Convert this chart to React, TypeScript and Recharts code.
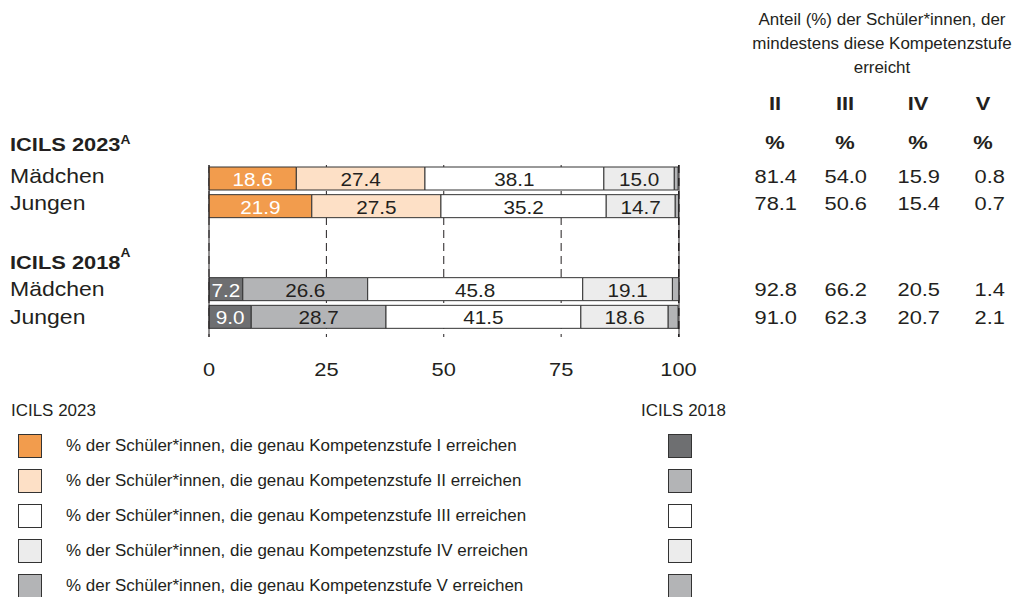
import React from "react";
import {
  BarChart,
  Bar,
  XAxis,
  YAxis,
  CartesianGrid,
  Cell,
  LabelList,
} from "recharts";

// rows of the chart (two spacer rows separate the cycles)
const rowKeys = ["m23", "j23", "gap", "h18", "m18", "j18"];
const rowLabels = ["Mädchen", "Jungen", "", "ICILS 2018", "Mädchen", "Jungen"];
const rowGroup = ["2023", "2023", "", "", "2018", "2018"];

// % of students reaching exactly level I..V
const levelI = [18.6, 21.9, null, null, 7.2, 9.0];
const levelII = [27.4, 27.5, null, null, 26.6, 28.7];
const levelIII = [38.1, 35.2, null, null, 45.8, 41.5];
const levelIV = [15.0, 14.7, null, null, 19.1, 18.6];
const levelV = [0.8, 0.7, null, null, 1.4, 2.1];

// % reaching at least level II..V
const atLeastII = [81.4, 78.1, null, null, 92.8, 91.0];
const atLeastIII = [54.0, 50.6, null, null, 66.2, 62.3];
const atLeastIV = [15.9, 15.4, null, null, 20.5, 20.7];
const atLeastV = [0.8, 0.7, null, null, 1.4, 2.1];

const tableHeads = ["II", "III", "IV", "V"];
const levelNames = ["I", "II", "III", "IV", "V"];
const xTicks = [0, 25, 50, 75, 100];

const colors2023 = ["#F29C4D", "#FDE0C6", "#FFFFFF", "#ECECEC", "#B3B4B6"];
const colors2018 = ["#6E6F71", "#B3B4B6", "#FFFFFF", "#ECECEC", "#B3B4B6"];
const labelColors2023 = ["#ffffff", "#231F20", "#231F20", "#231F20"];
const labelColors2018 = ["#f4f4f4", "#f4f4f4", "#231F20", "#231F20"];

const FONT = '"Liberation Sans", Arial, Helvetica, sans-serif';
const INK = "#231F20";
const SX = 1.15;
const LSX = 1.06;

const levelKeys = ["l1", "l2", "l3", "l4", "l5"];
const levelArrays = [levelI, levelII, levelIII, levelIV, levelV];
const tableArrays = [atLeastII, atLeastIII, atLeastIV, atLeastV];

const data = rowKeys.map((key, i) => {
  const row: any = { key };
  levelKeys.forEach((k, li) => (row[k] = levelArrays[li][i]));
  return row;
});

function SText({ x, y, anchor = "start", size, weight = 400, fill = INK, children }: any) {
  return (
    <text
      transform={`translate(${x} ${y}) scale(${SX} 1)`}
      textAnchor={anchor}
      dominantBaseline="central"
      fontFamily={FONT}
      fontSize={size}
      fontWeight={weight}
      fill={fill}
    >
      {children}
    </text>
  );
}

const rowShift = (i: number) => (rowGroup[i] === "2023" ? -3 : 0);

function LeftTick(props: any) {
  const i = props.index;
  const y = props.y + rowShift(i);
  if (rowKeys[i] === "h18") {
    return (
      <SText x={10} y={y} size={19} weight={700}>
        {rowLabels[i]}
        <tspan fontSize={12} dy={-9}>A</tspan>
      </SText>
    );
  }
  return (
    <SText x={10} y={y} size={20}>
      {rowLabels[i]}
    </SText>
  );
}

const colRight = [797, 867, 940, 1005];

function RightTick(props: any) {
  const i = props.index;
  if (atLeastII[i] == null) return null;
  const y = props.y + rowShift(i);
  return (
    <g>
      {tableArrays.map((arr, c) => (
        <SText key={c} x={colRight[c]} y={y} anchor="end" size={19}>
          {(arr[i] as number).toFixed(1)}
        </SText>
      ))}
    </g>
  );
}

function XTick(props: any) {
  return (
    <SText x={props.x} y={props.y} anchor="middle" size={19}>
      {props.payload.value}
    </SText>
  );
}

const renderLabel = (li: number) => (props: any) => {
  const { x, y, width, height, value, index } = props;
  if (value == null) return null;
  const fill = (rowGroup[index] === "2018" ? labelColors2018 : labelColors2023)[li];
  return (
    <SText x={x + width / 2} y={y + height / 2 + 1} anchor="middle" size={18} fill={fill}>
      {Number(value).toFixed(1)}
    </SText>
  );
};

const abs = (s: React.CSSProperties): React.CSSProperties => ({ position: "absolute", ...s });
const wide = (f: number): React.CSSProperties => ({ transform: `scaleX(${f})`, transformOrigin: "left", whiteSpace: "nowrap" });

export default function App() {
  return (
    <div style={{ position: "relative", width: 1014, height: 597, background: "#fff", fontFamily: FONT, color: INK, overflow: "hidden" }}>
      <style>{"body{margin:0}"}</style>
      <BarChart
        width={1014}
        height={597}
        data={data}
        layout="vertical"
        margin={{ top: 165, right: 0, bottom: 220, left: 0 }}
        barCategoryGap={4}
      >
        <CartesianGrid horizontal={false} stroke={INK} strokeDasharray="8 5" />
        <XAxis
          type="number"
          domain={[0, 100]}
          ticks={xTicks}
          axisLine={false}
          tickLine={false}
          tickMargin={26}
          height={40}
          tick={<XTick />}
        />
        <YAxis
          type="category"
          dataKey="key"
          width={209}
          axisLine={{ stroke: INK }}
          tickLine={false}
          padding={{ top: 0, bottom: 6 }}
          tick={<LeftTick />}
        />
        <YAxis
          yAxisId="r"
          orientation="right"
          type="category"
          dataKey="key"
          width={335}
          axisLine={{ stroke: INK }}
          tickLine={false}
          padding={{ top: 0, bottom: 6 }}
          tick={<RightTick />}
        />
        {levelKeys.map((k, li) => (
          <Bar
            key={k}
            dataKey={k}
            stackId="s"
            barSize={23}
            stroke="#333333"
            strokeWidth={1}
            isAnimationActive={false}
          >
            {data.map((_, i) => (
              <Cell key={i} fill={(rowGroup[i] === "2018" ? colors2018 : colors2023)[li]} />
            ))}
            {li < 4 && <LabelList dataKey={k} content={renderLabel(li)} />}
          </Bar>
        ))}
      </BarChart>

      {/* group header for the first cycle */}
      <div style={abs({ left: 10, top: 133, fontSize: 19, fontWeight: 700, lineHeight: "24px", ...wide(SX) })}>
        ICILS 2023<sup style={{ fontSize: 12, verticalAlign: "top", position: "relative", top: -5 }}>A</sup>
      </div>

      {/* table header on the right */}
      <div style={abs({ left: 740, width: 284, top: 8, fontSize: 16, lineHeight: "24px", textAlign: "center", transform: `scaleX(${LSX})` })}>
        Anteil (%) der Schüler*innen, der
        <br />
        mindestens diese Kompetenzstufe
        <br />
        erreicht
      </div>
      {tableHeads.map((h, c) => (
        <React.Fragment key={h}>
          <div style={abs({ left: colRight[c] - 22 - 40, width: 80, top: 92, textAlign: "center", fontSize: 19, fontWeight: 700, lineHeight: "24px", transform: `scaleX(${SX})` })}>
            {h}
          </div>
          <div style={abs({ left: colRight[c] - 22 - 40, width: 80, top: 131, textAlign: "center", fontSize: 19, fontWeight: 700, lineHeight: "24px", transform: `scaleX(${SX})` })}>
            %
          </div>
        </React.Fragment>
      ))}

      {/* legend */}
      <div style={abs({ left: 11, top: 401, fontSize: 16, lineHeight: "20px", ...wide(LSX) })}>ICILS 2023</div>
      <div style={abs({ left: 641, top: 401, fontSize: 16, lineHeight: "20px", ...wide(LSX) })}>ICILS 2018</div>
      {levelNames.map((n, i) => (
        <React.Fragment key={n}>
          <div style={abs({ left: 18, top: 434 + i * 35, width: 22, height: 22, background: colors2023[i], border: "1px solid #333" })} />
          <div style={abs({ left: 66, top: 435 + i * 35, fontSize: 16, lineHeight: "22px", ...wide(LSX) })}>
            % der Schüler*innen, die genau Kompetenzstufe {n} erreichen
          </div>
          <div style={abs({ left: 668, top: 434 + i * 35, width: 22, height: 22, background: colors2018[i], border: "1px solid #333" })} />
        </React.Fragment>
      ))}
    </div>
  );
}
